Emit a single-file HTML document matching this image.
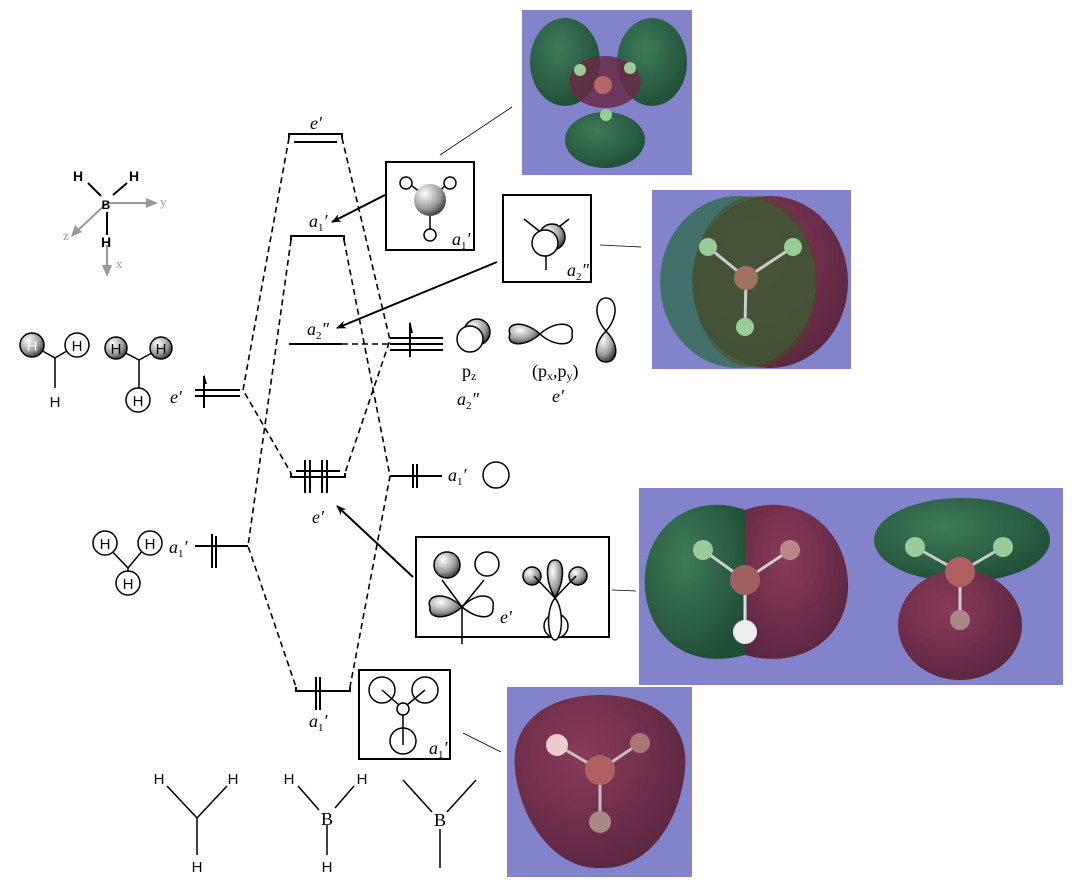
<!DOCTYPE html>
<html><head><meta charset="utf-8"><style>
body{margin:0;background:#fff;}
svg{display:block;}
.l{font-family:"Liberation Serif",serif;font-style:italic;font-size:18px;}
.s{font-family:"Liberation Sans",sans-serif;font-size:15px;}
.r{font-family:"Liberation Serif",serif;font-size:18px;}
</style></head><body>
<svg width="1083" height="893" viewBox="0 0 1083 893" xmlns="http://www.w3.org/2000/svg">
<defs>
<radialGradient id="ball" cx="0.35" cy="0.3" r="0.8"><stop offset="0" stop-color="#fff"/><stop offset="0.6" stop-color="#999"/><stop offset="1" stop-color="#222"/></radialGradient>
<radialGradient id="gr" cx="0.4" cy="0.35" r="0.7"><stop offset="0" stop-color="#3f7a5a"/><stop offset="1" stop-color="#1f4e36"/></radialGradient>
<radialGradient id="mr" cx="0.4" cy="0.35" r="0.7"><stop offset="0" stop-color="#8a3a5a"/><stop offset="1" stop-color="#5a2640"/></radialGradient>
<marker id="ah" markerWidth="10" markerHeight="8" refX="9" refY="4" orient="auto" markerUnits="userSpaceOnUse"><path d="M0,0 L10,4 L0,8 L3,4z" fill="#000"/></marker>
</defs>

<!-- purple images -->
<rect x="522" y="10" width="170" height="165" fill="#8383cc"/>
<ellipse cx="565" cy="62" rx="35" ry="44" fill="url(#gr)"/>
<ellipse cx="652" cy="62" rx="35" ry="44" fill="url(#gr)"/>
<ellipse cx="605" cy="140" rx="40" ry="28" fill="url(#gr)"/>
<ellipse cx="605" cy="82" rx="36" ry="26" fill="#6a2a48" opacity="0.85"/>
<circle cx="603" cy="85" r="9" fill="#b36868"/><circle cx="580" cy="70" r="6" fill="#9c9"/><circle cx="630" cy="68" r="6" fill="#9c9"/><circle cx="606" cy="115" r="6" fill="#9c9"/>

<rect x="652" y="190" width="199" height="179" fill="#8383cc"/>
<ellipse cx="770" cy="282" rx="78" ry="86" fill="url(#mr)"/>
<ellipse cx="738" cy="282" rx="78" ry="86" fill="#2e6a4a" opacity="0.75"/>
<ellipse cx="755" cy="282" rx="62" ry="86" fill="#4a4a20" opacity="0.5"/>
<line x1="746" y1="278" x2="708" y2="247" stroke="#ccc" stroke-width="3"/><line x1="746" y1="278" x2="793" y2="247" stroke="#ccc" stroke-width="3"/><line x1="746" y1="278" x2="745" y2="327" stroke="#ccc" stroke-width="3"/>
<circle cx="746" cy="278" r="12" fill="#a07060"/><circle cx="708" cy="247" r="9" fill="#9c9"/><circle cx="793" cy="247" r="9" fill="#9c9"/><circle cx="745" cy="327" r="9" fill="#9c9"/>

<rect x="639" y="488" width="424" height="197" fill="#8383cc"/>
<path d="M745,510 C690,490 640,530 645,590 C650,640 690,670 745,655 Z" fill="url(#gr)"/>
<path d="M745,510 C800,490 850,530 848,590 C845,640 800,670 745,655 Z" fill="url(#mr)"/>
<line x1="745" y1="580" x2="703" y2="550" stroke="#ccc" stroke-width="3"/><line x1="745" y1="580" x2="790" y2="550" stroke="#ccc" stroke-width="3"/><line x1="745" y1="580" x2="745" y2="632" stroke="#ddd" stroke-width="3"/>
<circle cx="745" cy="580" r="15" fill="#a06060"/><circle cx="703" cy="550" r="10" fill="#9c9"/><circle cx="790" cy="550" r="10" fill="#b88"/><circle cx="745" cy="632" r="12" fill="#eee"/>
<ellipse cx="962" cy="540" rx="88" ry="42" fill="url(#gr)"/>
<ellipse cx="960" cy="625" rx="62" ry="55" fill="url(#mr)"/>
<line x1="960" y1="572" x2="915" y2="547" stroke="#ccc" stroke-width="3"/><line x1="960" y1="572" x2="1003" y2="547" stroke="#ccc" stroke-width="3"/><line x1="960" y1="572" x2="960" y2="620" stroke="#ccc" stroke-width="3"/>
<circle cx="960" cy="572" r="15" fill="#b06060"/><circle cx="915" cy="547" r="10" fill="#9c9"/><circle cx="1003" cy="547" r="10" fill="#9c9"/><circle cx="960" cy="620" r="10" fill="#a88"/>

<rect x="507" y="687" width="185" height="190" fill="#8383cc"/>
<path d="M600,695 C650,695 690,720 685,770 C680,820 650,870 600,868 C555,870 520,820 515,770 C510,720 550,695 600,695 Z" fill="url(#mr)"/>
<line x1="600" y1="770" x2="557" y2="745" stroke="#cbb" stroke-width="3"/><line x1="600" y1="770" x2="640" y2="743" stroke="#cbb" stroke-width="3"/><line x1="600" y1="770" x2="600" y2="820" stroke="#cbb" stroke-width="3"/>
<circle cx="600" cy="770" r="15" fill="#b06060"/><circle cx="557" cy="745" r="11" fill="#ecc"/><circle cx="640" cy="743" r="10" fill="#a77"/><circle cx="600" cy="822" r="11" fill="#a88"/>

<!-- thin leader lines -->
<g stroke="#000" stroke-width="0.8">
<line x1="440" y1="155" x2="512" y2="107"/><line x1="600" y1="245" x2="641" y2="247"/><line x1="612" y1="590" x2="636" y2="591"/><line x1="463" y1="733" x2="501" y2="752"/>
</g>

<!-- levels -->
<g stroke="#000" stroke-width="2" fill="none">
<path d="M289,138 V134 H342 V138"/><line x1="294" y1="142" x2="337" y2="142"/>
<path d="M291,240 V236 H344 V240"/>
<line x1="289" y1="344" x2="342" y2="344"/>
<path d="M291,473 V477 H345 V473"/><line x1="296" y1="471" x2="340" y2="471"/>
<path d="M296,687 V691 H350 V687"/>
<line x1="195" y1="390" x2="240" y2="390"/><line x1="195" y1="396" x2="240" y2="396"/>
<line x1="195" y1="546" x2="248" y2="546"/>
<line x1="390" y1="338" x2="443" y2="338"/><line x1="390" y1="344" x2="443" y2="344"/><line x1="390" y1="350" x2="443" y2="350"/>
<line x1="390" y1="476" x2="442" y2="476"/>
</g>
<!-- spin arrows -->
<g stroke="#000" stroke-width="2">
<line x1="204" y1="376" x2="204" y2="408"/><line x1="410" y1="323" x2="410" y2="357"/>
<line x1="413" y1="464" x2="413" y2="488"/><line x1="417" y1="464" x2="417" y2="488"/>
<line x1="212" y1="534" x2="212" y2="568"/><line x1="216" y1="536" x2="216" y2="568"/>
<line x1="305" y1="460" x2="305" y2="493"/><line x1="310" y1="460" x2="310" y2="493"/><line x1="322" y1="460" x2="322" y2="493"/><line x1="327" y1="460" x2="327" y2="493"/>
<line x1="316" y1="677" x2="316" y2="710"/><line x1="320" y1="677" x2="320" y2="710"/>
</g>
<g fill="#000"><path d="M204,374 l3,10 h-3z"/><path d="M410,321 l3,12 h-3z"/></g>

<!-- dashed connectors -->
<g stroke="#000" stroke-width="1.6" fill="none" stroke-dasharray="6,4">
<polyline points="289,138 243,390 291,473"/>
<polyline points="291,240 248,546 296,687"/>
<polyline points="342,138 390,340 345,473"/>
<polyline points="344,240 390,476 350,687"/>
<line x1="342" y1="344" x2="389" y2="344"/>
</g>

<!-- labels -->
<g class="l">
<text x="310" y="129">e′</text>
<text x="309" y="227">a<tspan font-size="11" font-style="normal" dy="4">1</tspan><tspan dy="-4">′</tspan></text>
<text x="307" y="335">a<tspan font-size="11" font-style="normal" dy="4">2</tspan><tspan dy="-4">″</tspan></text>
<text x="170" y="403">e′</text>
<text x="448" y="481">a<tspan font-size="11" font-style="normal" dy="4">1</tspan><tspan dy="-4">′</tspan></text>
<text x="312" y="523">e′</text>
<text x="169" y="553">a<tspan font-size="11" font-style="normal" dy="4">1</tspan><tspan dy="-4">′</tspan></text>
<text x="309" y="727">a<tspan font-size="11" font-style="normal" dy="4">1</tspan><tspan dy="-4">′</tspan></text>
<text x="457" y="405">a<tspan font-size="11" font-style="normal" dy="4">2</tspan><tspan dy="-4">″</tspan></text>
<text x="552" y="402">e′</text>
<text x="452" y="245">a<tspan font-size="11" font-style="normal" dy="4">1</tspan><tspan dy="-4">′</tspan></text>
<text x="567" y="276">a<tspan font-size="11" font-style="normal" dy="4">2</tspan><tspan dy="-4">″</tspan></text>
<text x="500" y="623">e′</text>
<text x="429" y="754">a<tspan font-size="11" font-style="normal" dy="4">1</tspan><tspan dy="-4">′</tspan></text>
</g>
<text class="r" x="462" y="377">p<tspan font-size="12" dy="3">z</tspan></text>
<text class="r" x="532" y="377">(p<tspan font-size="12" dy="3">x</tspan><tspan dy="-3">,p</tspan><tspan font-size="12" dy="3">y</tspan><tspan dy="-3">)</tspan></text>

<!-- arrows -->
<g stroke="#000" stroke-width="2" marker-end="url(#ah)">
<line x1="385" y1="195" x2="332" y2="222"/>
<line x1="497" y1="262" x2="337" y2="328"/>
<line x1="413" y1="577" x2="337" y2="506"/>
</g>

<!-- boxes -->
<g stroke="#000" stroke-width="2" fill="none">
<rect x="386" y="162" width="88" height="88"/>
<rect x="503" y="195" width="88" height="87"/>
<rect x="416" y="537" width="193" height="100"/>
<rect x="359" y="670" width="91" height="89"/>
</g>
<!-- box1 content -->
<g stroke="#000" stroke-width="1.5" fill="#fff">
<line x1="430" y1="200" x2="407" y2="182"/><line x1="430" y1="200" x2="449" y2="182"/><line x1="430" y1="200" x2="430" y2="236"/>
<circle cx="406" cy="183" r="6"/><circle cx="450" cy="183" r="6"/><circle cx="430" cy="235" r="6"/>
<circle cx="430" cy="200" r="16" fill="url(#ball)" stroke="none"/>
</g>
<!-- box2 content -->
<g stroke="#000" stroke-width="1.5">
<line x1="524" y1="219" x2="543" y2="234"/><line x1="569" y1="219" x2="550" y2="234"/><line x1="546" y1="252" x2="546" y2="270"/>
<circle cx="552" cy="237" r="13" fill="url(#ball)"/><circle cx="545" cy="243" r="13" fill="#fff"/>
</g>
<!-- p orbitals -->
<g stroke="#000" stroke-width="1.5">
<circle cx="477" cy="332" r="13" fill="url(#ball)"/><circle cx="470" cy="339" r="13" fill="#fff"/>
<path d="M540,334 C525,320 505,322 510,334 C505,346 525,348 540,334 Z" fill="url(#ball)"/>
<path d="M540,334 C555,320 575,322 572,334 C575,346 555,348 540,334 Z" fill="#fff"/>
<path d="M606,331 C592,315 596,298 606,298 C616,298 620,315 606,331 Z" fill="#fff"/>
<path d="M606,331 C592,345 594,362 606,362 C618,362 620,345 606,331 Z" fill="url(#ball)"/>
<circle cx="496" cy="475" r="13" fill="#fff"/>
</g>
<!-- e' box content -->
<g stroke="#000" stroke-width="1.5">
<circle cx="447" cy="565" r="13" fill="url(#ball)"/>
<circle cx="487" cy="564" r="12" fill="#fff"/>
<path d="M462,607 C445,590 425,595 430,607 C428,620 448,620 462,607Z" fill="url(#ball)"/>
<path d="M462,607 C478,590 496,595 493,607 C494,620 478,620 462,607Z" fill="#fff"/>
<line x1="462" y1="607" x2="462" y2="644" /><line x1="462" y1="607" x2="442" y2="580" /><line x1="462" y1="607" x2="484" y2="580"/>
<circle cx="556" cy="626" r="12" fill="#fff"/>
<path d="M555,598 C545,610 548,640 555,640 C562,640 565,610 555,598Z" fill="#fff"/>
<path d="M555,598 C545,580 545,560 555,560 C565,560 565,580 555,598Z" fill="url(#ball)"/>
<circle cx="532" cy="576" r="9" fill="url(#ball)"/><circle cx="578" cy="576" r="9" fill="url(#ball)"/>
<line x1="555" y1="598" x2="534" y2="576"/><line x1="555" y1="598" x2="576" y2="576"/>
</g>
<!-- bottom a1' box -->
<g stroke="#000" stroke-width="1.5" fill="none">
<circle cx="382" cy="690" r="13"/><circle cx="425" cy="690" r="13"/><circle cx="403" cy="709" r="6"/><circle cx="403" cy="741" r="13"/>
<line x1="399" y1="705" x2="382" y2="690"/><line x1="407" y1="705" x2="425" y2="690"/><line x1="403" y1="715" x2="403" y2="745"/>
</g>

<!-- left H3 fragments -->
<g stroke="#000" stroke-width="1.5">
<line x1="55" y1="358" x2="32" y2="345"/><line x1="55" y1="358" x2="77" y2="345"/><line x1="55" y1="358" x2="55" y2="388"/>
<circle cx="32" cy="345" r="12" fill="url(#ball)"/><circle cx="77" cy="345" r="12" fill="#fff"/>
<line x1="139" y1="360" x2="116" y2="348"/><line x1="139" y1="360" x2="161" y2="348"/><line x1="139" y1="360" x2="139" y2="398"/>
<circle cx="116" cy="348" r="11" fill="url(#ball)"/><circle cx="161" cy="348" r="11" fill="url(#ball)"/><circle cx="138" cy="400" r="12" fill="#fff"/>
<line x1="128" y1="568" x2="105" y2="544"/><line x1="128" y1="568" x2="148" y2="544"/><line x1="128" y1="568" x2="128" y2="590"/>
<circle cx="105" cy="543" r="12" fill="#fff"/><circle cx="150" cy="543" r="12" fill="#fff"/><circle cx="128" cy="583" r="12" fill="#fff"/>
</g>
<g class="s" text-anchor="middle">
<text x="32" y="351" fill="#fff">H</text><text x="77" y="351">H</text><text x="55" y="407">H</text>
<text x="116" y="354">H</text><text x="161" y="354">H</text><text x="138" y="406">H</text>
<text x="105" y="549">H</text><text x="150" y="549">H</text><text x="128" y="589">H</text>
</g>

<!-- axes -->
<g stroke="#999" stroke-width="2">
<line x1="107" y1="203" x2="150" y2="203"/><line x1="107" y1="203" x2="75" y2="233"/><line x1="107" y1="245" x2="107" y2="270"/>
</g>
<g fill="#999"><path d="M158,203 l-12,-5 v10z"/><path d="M71,237 l4,-12 l7,7z"/><path d="M107,277 l-5,-12 h10z"/></g>
<g stroke="#000" stroke-width="2"><line x1="88" y1="183" x2="101" y2="196"/><line x1="127" y1="183" x2="113" y2="195"/><line x1="107" y1="212" x2="107" y2="235"/></g>
<g font-family="Liberation Sans,sans-serif" font-weight="bold" font-size="14" text-anchor="middle">
<text x="78" y="181">H</text><text x="134" y="181">H</text><text x="106" y="209" font-size="12">B</text><text x="106" y="247">H</text>
</g>
<g font-family="Liberation Serif,serif" font-size="13" fill="#999"><text x="160" y="206">y</text><text x="63" y="240">z</text><text x="116" y="268">x</text></g>

<!-- bottom structures -->
<g stroke="#000" stroke-width="1.5">
<line x1="167" y1="786" x2="197" y2="818"/><line x1="227" y1="786" x2="197" y2="818"/><line x1="197" y1="818" x2="197" y2="855"/>
<line x1="298" y1="786" x2="319" y2="810"/><line x1="354" y1="786" x2="335" y2="808"/><line x1="327" y1="825" x2="327" y2="855"/>
<line x1="403" y1="780" x2="432" y2="812"/><line x1="476" y1="780" x2="447" y2="812"/><line x1="440" y1="829" x2="440" y2="868"/>
</g>
<g class="s" font-size="16" text-anchor="middle">
<text x="159" y="784">H</text><text x="233" y="784">H</text><text x="197" y="872">H</text>
<text x="289" y="784">H</text><text x="362" y="784">H</text><text x="327" y="872">H</text>
</g>
<g class="r" font-size="20" text-anchor="middle"><text x="327" y="825">B</text><text x="440" y="826">B</text></g>
</svg>
</body></html>
